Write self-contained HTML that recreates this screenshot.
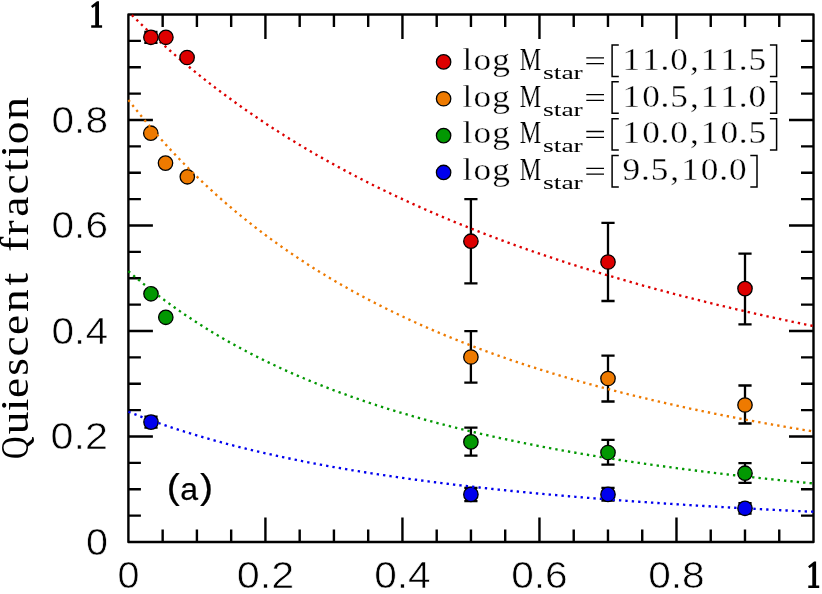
<!DOCTYPE html>
<html><head><meta charset="utf-8"><title>Quiescent fraction</title>
<style>html,body{margin:0;padding:0;background:#fff;}svg{display:block;will-change:transform;}text{font-family:"Liberation Sans",sans-serif;fill:#000;}.ser{font-family:"Liberation Serif",serif;}</style></head><body>
<svg width="822" height="594" viewBox="0 0 822 594">
<rect width="822" height="594" fill="#fff"/>
<defs><clipPath id="box"><rect x="127.20" y="13.30" width="687.50" height="529.90"/></clipPath></defs>
<g stroke="#000" stroke-width="2.4" fill="none" stroke-linejoin="round" stroke-linecap="butt">
<rect x="128.40" y="14.50" width="685.10" height="527.50"/>
<path d="M162.66 542.00v-12.50M162.66 14.50v12.50M128.40 515.62h12.50M813.50 515.62h-12.50M196.91 542.00v-12.50M196.91 14.50v12.50M128.40 489.25h12.50M813.50 489.25h-12.50M231.17 542.00v-12.50M231.17 14.50v12.50M128.40 462.88h12.50M813.50 462.88h-12.50M265.42 542.00v-24.50M265.42 14.50v24.50M128.40 436.50h24.50M813.50 436.50h-24.50M299.68 542.00v-12.50M299.68 14.50v12.50M128.40 410.12h12.50M813.50 410.12h-12.50M333.93 542.00v-12.50M333.93 14.50v12.50M128.40 383.75h12.50M813.50 383.75h-12.50M368.19 542.00v-12.50M368.19 14.50v12.50M128.40 357.38h12.50M813.50 357.38h-12.50M402.44 542.00v-24.50M402.44 14.50v24.50M128.40 331.00h24.50M813.50 331.00h-24.50M436.70 542.00v-12.50M436.70 14.50v12.50M128.40 304.62h12.50M813.50 304.62h-12.50M470.95 542.00v-12.50M470.95 14.50v12.50M128.40 278.25h12.50M813.50 278.25h-12.50M505.21 542.00v-12.50M505.21 14.50v12.50M128.40 251.88h12.50M813.50 251.88h-12.50M539.46 542.00v-24.50M539.46 14.50v24.50M128.40 225.50h24.50M813.50 225.50h-24.50M573.72 542.00v-12.50M573.72 14.50v12.50M128.40 199.12h12.50M813.50 199.12h-12.50M607.97 542.00v-12.50M607.97 14.50v12.50M128.40 172.75h12.50M813.50 172.75h-12.50M642.23 542.00v-12.50M642.23 14.50v12.50M128.40 146.38h12.50M813.50 146.38h-12.50M676.48 542.00v-24.50M676.48 14.50v24.50M128.40 120.00h24.50M813.50 120.00h-24.50M710.74 542.00v-12.50M710.74 14.50v12.50M128.40 93.62h12.50M813.50 93.62h-12.50M744.99 542.00v-12.50M744.99 14.50v12.50M128.40 67.25h12.50M813.50 67.25h-12.50M779.25 542.00v-12.50M779.25 14.50v12.50M128.40 40.88h12.50M813.50 40.88h-12.50"/>
</g>
<path d="M470.90 199.20V283.40M464.30 199.20h13.20M464.30 283.40h13.20" stroke="#000" stroke-width="2.3" fill="none"/>
<circle cx="470.90" cy="241.20" r="7.2" fill="#dd0000" stroke="#000" stroke-width="1.3"/>
<path d="M608.00 222.90V301.00M601.40 222.90h13.20M601.40 301.00h13.20" stroke="#000" stroke-width="2.3" fill="none"/>
<circle cx="608.00" cy="262.00" r="7.2" fill="#dd0000" stroke="#000" stroke-width="1.3"/>
<path d="M745.00 253.60V324.30M738.40 253.60h13.20M738.40 324.30h13.20" stroke="#000" stroke-width="2.3" fill="none"/>
<circle cx="745.00" cy="288.60" r="7.2" fill="#dd0000" stroke="#000" stroke-width="1.3"/>
<circle cx="150.80" cy="133.20" r="7.2" fill="#ee7a00" stroke="#000" stroke-width="1.3"/>
<circle cx="165.50" cy="163.10" r="7.2" fill="#ee7a00" stroke="#000" stroke-width="1.3"/>
<circle cx="187.30" cy="176.80" r="7.2" fill="#ee7a00" stroke="#000" stroke-width="1.3"/>
<path d="M470.90 331.10V382.60M464.30 331.10h13.20M464.30 382.60h13.20" stroke="#000" stroke-width="2.3" fill="none"/>
<circle cx="470.90" cy="357.00" r="7.2" fill="#ee7a00" stroke="#000" stroke-width="1.3"/>
<path d="M608.00 355.60V401.50M601.40 355.60h13.20M601.40 401.50h13.20" stroke="#000" stroke-width="2.3" fill="none"/>
<circle cx="608.00" cy="378.50" r="7.2" fill="#ee7a00" stroke="#000" stroke-width="1.3"/>
<path d="M745.00 385.50V423.50M738.40 385.50h13.20M738.40 423.50h13.20" stroke="#000" stroke-width="2.3" fill="none"/>
<circle cx="745.00" cy="405.00" r="7.2" fill="#ee7a00" stroke="#000" stroke-width="1.3"/>
<circle cx="151.00" cy="293.80" r="7.2" fill="#029802" stroke="#000" stroke-width="1.3"/>
<circle cx="165.80" cy="317.30" r="7.2" fill="#029802" stroke="#000" stroke-width="1.3"/>
<path d="M470.90 427.70V455.70M464.30 427.70h13.20M464.30 455.70h13.20" stroke="#000" stroke-width="2.3" fill="none"/>
<circle cx="470.90" cy="441.90" r="7.2" fill="#029802" stroke="#000" stroke-width="1.3"/>
<path d="M608.00 439.80V464.60M601.40 439.80h13.20M601.40 464.60h13.20" stroke="#000" stroke-width="2.3" fill="none"/>
<circle cx="608.00" cy="452.50" r="7.2" fill="#029802" stroke="#000" stroke-width="1.3"/>
<path d="M745.00 463.10V482.80M738.40 463.10h13.20M738.40 482.80h13.20" stroke="#000" stroke-width="2.3" fill="none"/>
<circle cx="745.00" cy="473.20" r="7.2" fill="#029802" stroke="#000" stroke-width="1.3"/>
<path d="M151.00 416.60V427.70M144.40 416.60h13.20M144.40 427.70h13.20" stroke="#000" stroke-width="2.3" fill="none"/>
<circle cx="151.00" cy="422.10" r="7.2" fill="#0000ee" stroke="#000" stroke-width="1.3"/>
<path d="M470.90 487.80V501.20M464.30 487.80h13.20M464.30 501.20h13.20" stroke="#000" stroke-width="2.3" fill="none"/>
<circle cx="470.90" cy="494.40" r="7.2" fill="#0000ee" stroke="#000" stroke-width="1.3"/>
<path d="M608.00 487.80V500.70M601.40 487.80h13.20M601.40 500.70h13.20" stroke="#000" stroke-width="2.3" fill="none"/>
<circle cx="608.00" cy="494.40" r="7.2" fill="#0000ee" stroke="#000" stroke-width="1.3"/>
<path d="M745.00 503.10V513.50M738.40 503.10h13.20M738.40 513.50h13.20" stroke="#000" stroke-width="2.3" fill="none"/>
<circle cx="745.00" cy="508.30" r="7.2" fill="#0000ee" stroke="#000" stroke-width="1.3"/>
<g fill="none" stroke-width="2.35" stroke-linecap="butt" stroke-dasharray="2.35 4.064" clip-path="url(#box)">
<polyline stroke="#dd0000" stroke-dashoffset="1.50" points="128.40,11.65 130.11,13.37 131.83,15.07 133.54,16.76 135.25,18.45 136.96,20.13 138.68,21.79 140.39,23.45 142.10,25.10 143.81,26.73 145.53,28.36 147.24,29.98 148.95,31.59 150.67,33.19 152.38,34.79 154.09,36.37 155.80,37.95 157.52,39.51 159.23,41.07 160.94,42.62 162.66,44.16 164.37,45.70 166.08,47.22 167.79,48.74 169.51,50.24 171.22,51.74 172.93,53.24 174.64,54.72 176.36,56.19 178.07,57.66 179.78,59.12 181.50,60.57 183.21,62.02 184.92,63.46 186.63,64.88 188.35,66.31 190.06,67.72 191.77,69.13 193.48,70.53 195.20,71.92 196.91,73.30 198.62,74.68 200.34,76.05 202.05,77.41 203.76,78.77 205.47,80.12 207.19,81.46 208.90,82.80 210.61,84.13 212.32,85.45 214.04,86.76 215.75,88.07 217.46,89.37 219.18,90.67 220.89,91.96 222.60,93.24 224.31,94.51 226.03,95.78 227.74,97.05 229.45,98.30 231.17,99.55 232.88,100.80 234.59,102.04 236.30,103.27 238.02,104.49 239.73,105.71 241.44,106.93 243.15,108.13 244.87,109.34 246.58,110.53 248.29,111.72 250.01,112.91 251.72,114.08 253.43,115.26 255.14,116.42 256.86,117.58 258.57,118.74 260.28,119.89 261.99,121.03 263.71,122.17 265.42,123.31 267.13,124.44 268.85,125.56 270.56,126.68 272.27,127.79 273.98,128.90 275.70,130.00 277.41,131.09 279.12,132.19 280.83,133.27 282.55,134.35 284.26,135.43 285.97,136.50 287.69,137.57 289.40,138.63 291.11,139.68 292.82,140.74 294.54,141.78 296.25,142.82 297.96,143.86 299.68,144.89 301.39,145.92 303.10,146.94 304.81,147.96 306.53,148.97 308.24,149.98 309.95,150.99 311.66,151.99 313.38,152.98 315.09,153.97 316.80,154.96 318.52,155.94 320.23,156.92 321.94,157.89 323.65,158.86 325.37,159.82 327.08,160.78 328.79,161.74 330.50,162.69 332.22,163.64 333.93,164.58 335.64,165.52 337.36,166.46 339.07,167.39 340.78,168.31 342.49,169.24 344.21,170.15 345.92,171.07 347.63,171.98 349.34,172.89 351.06,173.79 352.77,174.69 354.48,175.58 356.20,176.47 357.91,177.36 359.62,178.25 361.33,179.12 363.05,180.00 364.76,180.87 366.47,181.74 368.19,182.61 369.90,183.47 371.61,184.32 373.32,185.18 375.04,186.03 376.75,186.88 378.46,187.72 380.17,188.56 381.89,189.39 383.60,190.23 385.31,191.06 387.03,191.88 388.74,192.70 390.45,193.52 392.16,194.34 393.88,195.15 395.59,195.96 397.30,196.76 399.01,197.57 400.73,198.36 402.44,199.16 404.15,199.95 405.87,200.74 407.58,201.53 409.29,202.31 411.00,203.09 412.72,203.86 414.43,204.64 416.14,205.41 417.85,206.17 419.57,206.94 421.28,207.70 422.99,208.46 424.71,209.21 426.42,209.96 428.13,210.71 429.84,211.46 431.56,212.20 433.27,212.94 434.98,213.68 436.70,214.41 438.41,215.14 440.12,215.87 441.83,216.59 443.55,217.32 445.26,218.04 446.97,218.75 448.68,219.47 450.40,220.18 452.11,220.88 453.82,221.59 455.54,222.29 457.25,222.99 458.96,223.69 460.67,224.39 462.39,225.08 464.10,225.77 465.81,226.45 467.52,227.14 469.24,227.82 470.95,228.50 472.66,229.17 474.38,229.85 476.09,230.52 477.80,231.19 479.51,231.85 481.23,232.52 482.94,233.18 484.65,233.84 486.36,234.49 488.08,235.14 489.79,235.80 491.50,236.44 493.22,237.09 494.93,237.73 496.64,238.38 498.35,239.01 500.07,239.65 501.78,240.29 503.49,240.92 505.21,241.55 506.92,242.17 508.63,242.80 510.34,243.42 512.06,244.04 513.77,244.66 515.48,245.28 517.19,245.89 518.91,246.50 520.62,247.11 522.33,247.72 524.05,248.32 525.76,248.92 527.47,249.52 529.18,250.12 530.90,250.72 532.61,251.31 534.32,251.90 536.03,252.49 537.75,253.08 539.46,253.66 541.17,254.25 542.89,254.83 544.60,255.41 546.31,255.98 548.02,256.56 549.74,257.13 551.45,257.70 553.16,258.27 554.87,258.84 556.59,259.40 558.30,259.96 560.01,260.53 561.73,261.08 563.44,261.64 565.15,262.20 566.86,262.75 568.58,263.30 570.29,263.85 572.00,264.40 573.72,264.94 575.43,265.48 577.14,266.03 578.85,266.57 580.57,267.10 582.28,267.64 583.99,268.17 585.70,268.71 587.42,269.24 589.13,269.76 590.84,270.29 592.56,270.82 594.27,271.34 595.98,271.86 597.69,272.38 599.41,272.90 601.12,273.41 602.83,273.93 604.54,274.44 606.26,274.95 607.97,275.46 609.68,275.97 611.40,276.47 613.11,276.98 614.82,277.48 616.53,277.98 618.25,278.48 619.96,278.98 621.67,279.47 623.38,279.97 625.10,280.46 626.81,280.95 628.52,281.44 630.24,281.93 631.95,282.41 633.66,282.90 635.37,283.38 637.09,283.86 638.80,284.34 640.51,284.82 642.23,285.29 643.94,285.77 645.65,286.24 647.36,286.71 649.08,287.18 650.79,287.65 652.50,288.12 654.21,288.58 655.93,289.05 657.64,289.51 659.35,289.97 661.07,290.43 662.78,290.89 664.49,291.34 666.20,291.80 667.92,292.25 669.63,292.71 671.34,293.16 673.05,293.61 674.77,294.05 676.48,294.50 678.19,294.95 679.91,295.39 681.62,295.83 683.33,296.27 685.04,296.71 686.76,297.15 688.47,297.59 690.18,298.02 691.89,298.45 693.61,298.89 695.32,299.32 697.03,299.75 698.75,300.18 700.46,300.60 702.17,301.03 703.88,301.45 705.60,301.88 707.31,302.30 709.02,302.72 710.74,303.14 712.45,303.56 714.16,303.97 715.87,304.39 717.59,304.80 719.30,305.21 721.01,305.63 722.72,306.04 724.44,306.45 726.15,306.85 727.86,307.26 729.58,307.66 731.29,308.07 733.00,308.47 734.71,308.87 736.43,309.27 738.14,309.67 739.85,310.07 741.56,310.47 743.28,310.86 744.99,311.26 746.70,311.65 748.42,312.04 750.13,312.43 751.84,312.82 753.55,313.21 755.27,313.60 756.98,313.98 758.69,314.37 760.40,314.75 762.12,315.13 763.83,315.52 765.54,315.90 767.26,316.28 768.97,316.65 770.68,317.03 772.39,317.41 774.11,317.78 775.82,318.15 777.53,318.53 779.25,318.90 780.96,319.27 782.67,319.64 784.38,320.01 786.10,320.37 787.81,320.74 789.52,321.10 791.23,321.47 792.95,321.83 794.66,322.19 796.37,322.55 798.09,322.91 799.80,323.27 801.51,323.63 803.22,323.99 804.94,324.34 806.65,324.70 808.36,325.05 810.07,325.40 811.79,325.75 813.50,326.10"/>
<polyline stroke="#ee7a00" stroke-dashoffset="0.00" points="128.40,99.96 130.11,102.16 131.83,104.34 133.54,106.51 135.25,108.67 136.96,110.80 138.68,112.92 140.39,115.03 142.10,117.12 143.81,119.20 145.53,121.26 147.24,123.30 148.95,125.33 150.67,127.35 152.38,129.35 154.09,131.33 155.80,133.30 157.52,135.26 159.23,137.21 160.94,139.14 162.66,141.05 164.37,142.95 166.08,144.84 167.79,146.72 169.51,148.58 171.22,150.43 172.93,152.27 174.64,154.09 176.36,155.90 178.07,157.70 179.78,159.48 181.50,161.26 183.21,163.02 184.92,164.77 186.63,166.50 188.35,168.23 190.06,169.94 191.77,171.64 193.48,173.33 195.20,175.01 196.91,176.67 198.62,178.33 200.34,179.97 202.05,181.60 203.76,183.23 205.47,184.84 207.19,186.44 208.90,188.03 210.61,189.60 212.32,191.17 214.04,192.73 215.75,194.28 217.46,195.81 219.18,197.34 220.89,198.86 222.60,200.36 224.31,201.86 226.03,203.35 227.74,204.82 229.45,206.29 231.17,207.75 232.88,209.20 234.59,210.64 236.30,212.07 238.02,213.49 239.73,214.90 241.44,216.30 243.15,217.70 244.87,219.08 246.58,220.46 248.29,221.82 250.01,223.18 251.72,224.53 253.43,225.87 255.14,227.20 256.86,228.53 258.57,229.84 260.28,231.15 261.99,232.45 263.71,233.74 265.42,235.02 267.13,236.30 268.85,237.57 270.56,238.83 272.27,240.08 273.98,241.32 275.70,242.56 277.41,243.79 279.12,245.01 280.83,246.22 282.55,247.43 284.26,248.62 285.97,249.82 287.69,251.00 289.40,252.18 291.11,253.35 292.82,254.51 294.54,255.67 296.25,256.81 297.96,257.96 299.68,259.09 301.39,260.22 303.10,261.34 304.81,262.46 306.53,263.56 308.24,264.67 309.95,265.76 311.66,266.85 313.38,267.93 315.09,269.01 316.80,270.08 318.52,271.14 320.23,272.20 321.94,273.25 323.65,274.29 325.37,275.33 327.08,276.36 328.79,277.39 330.50,278.41 332.22,279.43 333.93,280.43 335.64,281.44 337.36,282.44 339.07,283.43 340.78,284.41 342.49,285.39 344.21,286.37 345.92,287.34 347.63,288.30 349.34,289.26 351.06,290.21 352.77,291.16 354.48,292.10 356.20,293.04 357.91,293.97 359.62,294.90 361.33,295.82 363.05,296.73 364.76,297.64 366.47,298.55 368.19,299.45 369.90,300.35 371.61,301.24 373.32,302.12 375.04,303.01 376.75,303.88 378.46,304.75 380.17,305.62 381.89,306.48 383.60,307.34 385.31,308.19 387.03,309.04 388.74,309.88 390.45,310.72 392.16,311.56 393.88,312.38 395.59,313.21 397.30,314.03 399.01,314.85 400.73,315.66 402.44,316.47 404.15,317.27 405.87,318.07 407.58,318.86 409.29,319.65 411.00,320.44 412.72,321.22 414.43,322.00 416.14,322.78 417.85,323.55 419.57,324.31 421.28,325.07 422.99,325.83 424.71,326.58 426.42,327.33 428.13,328.08 429.84,328.82 431.56,329.56 433.27,330.30 434.98,331.03 436.70,331.75 438.41,332.48 440.12,333.20 441.83,333.91 443.55,334.62 445.26,335.33 446.97,336.04 448.68,336.74 450.40,337.43 452.11,338.13 453.82,338.82 455.54,339.51 457.25,340.19 458.96,340.87 460.67,341.55 462.39,342.22 464.10,342.89 465.81,343.56 467.52,344.22 469.24,344.88 470.95,345.54 472.66,346.19 474.38,346.84 476.09,347.49 477.80,348.13 479.51,348.77 481.23,349.41 482.94,350.04 484.65,350.67 486.36,351.30 488.08,351.92 489.79,352.55 491.50,353.16 493.22,353.78 494.93,354.39 496.64,355.00 498.35,355.61 500.07,356.21 501.78,356.81 503.49,357.41 505.21,358.01 506.92,358.60 508.63,359.19 510.34,359.77 512.06,360.36 513.77,360.94 515.48,361.52 517.19,362.09 518.91,362.66 520.62,363.23 522.33,363.80 524.05,364.37 525.76,364.93 527.47,365.49 529.18,366.04 530.90,366.60 532.61,367.15 534.32,367.70 536.03,368.24 537.75,368.79 539.46,369.33 541.17,369.86 542.89,370.40 544.60,370.93 546.31,371.46 548.02,371.99 549.74,372.52 551.45,373.04 553.16,373.56 554.87,374.08 556.59,374.60 558.30,375.11 560.01,375.62 561.73,376.13 563.44,376.64 565.15,377.14 566.86,377.65 568.58,378.15 570.29,378.64 572.00,379.14 573.72,379.63 575.43,380.12 577.14,380.61 578.85,381.10 580.57,381.58 582.28,382.07 583.99,382.55 585.70,383.02 587.42,383.50 589.13,383.97 590.84,384.44 592.56,384.91 594.27,385.38 595.98,385.84 597.69,386.31 599.41,386.77 601.12,387.23 602.83,387.68 604.54,388.14 606.26,388.59 607.97,389.04 609.68,389.49 611.40,389.94 613.11,390.38 614.82,390.83 616.53,391.27 618.25,391.71 619.96,392.14 621.67,392.58 623.38,393.01 625.10,393.44 626.81,393.87 628.52,394.30 630.24,394.73 631.95,395.15 633.66,395.57 635.37,395.99 637.09,396.41 638.80,396.83 640.51,397.25 642.23,397.66 643.94,398.07 645.65,398.48 647.36,398.89 649.08,399.29 650.79,399.70 652.50,400.10 654.21,400.50 655.93,400.90 657.64,401.30 659.35,401.70 661.07,402.09 662.78,402.48 664.49,402.87 666.20,403.26 667.92,403.65 669.63,404.04 671.34,404.42 673.05,404.81 674.77,405.19 676.48,405.57 678.19,405.94 679.91,406.32 681.62,406.70 683.33,407.07 685.04,407.44 686.76,407.81 688.47,408.18 690.18,408.55 691.89,408.91 693.61,409.28 695.32,409.64 697.03,410.00 698.75,410.36 700.46,410.72 702.17,411.08 703.88,411.43 705.60,411.79 707.31,412.14 709.02,412.49 710.74,412.84 712.45,413.19 714.16,413.54 715.87,413.88 717.59,414.23 719.30,414.57 721.01,414.91 722.72,415.25 724.44,415.59 726.15,415.93 727.86,416.26 729.58,416.60 731.29,416.93 733.00,417.26 734.71,417.59 736.43,417.92 738.14,418.25 739.85,418.58 741.56,418.90 743.28,419.23 744.99,419.55 746.70,419.87 748.42,420.19 750.13,420.51 751.84,420.83 753.55,421.15 755.27,421.46 756.98,421.77 758.69,422.09 760.40,422.40 762.12,422.71 763.83,423.02 765.54,423.33 767.26,423.63 768.97,423.94 770.68,424.24 772.39,424.55 774.11,424.85 775.82,425.15 777.53,425.45 779.25,425.75 780.96,426.05 782.67,426.34 784.38,426.64 786.10,426.93 787.81,427.23 789.52,427.52 791.23,427.81 792.95,428.10 794.66,428.39 796.37,428.67 798.09,428.96 799.80,429.24 801.51,429.53 803.22,429.81 804.94,430.09 806.65,430.38 808.36,430.66 810.07,430.93 811.79,431.21 813.50,431.49"/>
<polyline stroke="#029802" stroke-dashoffset="0.00" points="128.40,271.13 130.11,272.62 131.83,274.10 133.54,275.56 135.25,277.02 136.96,278.46 138.68,279.90 140.39,281.32 142.10,282.73 143.81,284.13 145.53,285.51 147.24,286.89 148.95,288.26 150.67,289.61 152.38,290.96 154.09,292.29 155.80,293.62 157.52,294.93 159.23,296.24 160.94,297.53 162.66,298.81 164.37,300.09 166.08,301.35 167.79,302.61 169.51,303.85 171.22,305.09 172.93,306.32 174.64,307.54 176.36,308.75 178.07,309.94 179.78,311.14 181.50,312.32 183.21,313.49 184.92,314.66 186.63,315.81 188.35,316.96 190.06,318.10 191.77,319.23 193.48,320.35 195.20,321.47 196.91,322.57 198.62,323.67 200.34,324.76 202.05,325.84 203.76,326.92 205.47,327.98 207.19,329.04 208.90,330.09 210.61,331.14 212.32,332.17 214.04,333.20 215.75,334.22 217.46,335.24 219.18,336.25 220.89,337.25 222.60,338.24 224.31,339.22 226.03,340.20 227.74,341.18 229.45,342.14 231.17,343.10 232.88,344.05 234.59,345.00 236.30,345.94 238.02,346.87 239.73,347.80 241.44,348.72 243.15,349.63 244.87,350.54 246.58,351.44 248.29,352.33 250.01,353.22 251.72,354.10 253.43,354.98 255.14,355.85 256.86,356.72 258.57,357.58 260.28,358.43 261.99,359.28 263.71,360.12 265.42,360.95 267.13,361.79 268.85,362.61 270.56,363.43 272.27,364.24 273.98,365.05 275.70,365.86 277.41,366.65 279.12,367.45 280.83,368.24 282.55,369.02 284.26,369.80 285.97,370.57 287.69,371.34 289.40,372.10 291.11,372.86 292.82,373.61 294.54,374.36 296.25,375.10 297.96,375.84 299.68,376.57 301.39,377.30 303.10,378.02 304.81,378.74 306.53,379.46 308.24,380.17 309.95,380.87 311.66,381.58 313.38,382.27 315.09,382.97 316.80,383.65 318.52,384.34 320.23,385.02 321.94,385.69 323.65,386.36 325.37,387.03 327.08,387.69 328.79,388.35 330.50,389.01 332.22,389.66 333.93,390.31 335.64,390.95 337.36,391.59 339.07,392.22 340.78,392.85 342.49,393.48 344.21,394.10 345.92,394.72 347.63,395.34 349.34,395.95 351.06,396.56 352.77,397.16 354.48,397.76 356.20,398.36 357.91,398.95 359.62,399.54 361.33,400.13 363.05,400.71 364.76,401.29 366.47,401.87 368.19,402.44 369.90,403.01 371.61,403.58 373.32,404.14 375.04,404.70 376.75,405.26 378.46,405.81 380.17,406.36 381.89,406.91 383.60,407.45 385.31,407.99 387.03,408.53 388.74,409.06 390.45,409.59 392.16,410.12 393.88,410.64 395.59,411.16 397.30,411.68 399.01,412.20 400.73,412.71 402.44,413.22 404.15,413.73 405.87,414.23 407.58,414.73 409.29,415.23 411.00,415.72 412.72,416.22 414.43,416.71 416.14,417.19 417.85,417.68 419.57,418.16 421.28,418.64 422.99,419.11 424.71,419.59 426.42,420.06 428.13,420.53 429.84,420.99 431.56,421.46 433.27,421.92 434.98,422.37 436.70,422.83 438.41,423.28 440.12,423.73 441.83,424.18 443.55,424.62 445.26,425.07 446.97,425.51 448.68,425.95 450.40,426.38 452.11,426.82 453.82,427.25 455.54,427.68 457.25,428.10 458.96,428.53 460.67,428.95 462.39,429.37 464.10,429.78 465.81,430.20 467.52,430.61 469.24,431.02 470.95,431.43 472.66,431.84 474.38,432.24 476.09,432.64 477.80,433.04 479.51,433.44 481.23,433.83 482.94,434.23 484.65,434.62 486.36,435.01 488.08,435.40 489.79,435.78 491.50,436.16 493.22,436.55 494.93,436.92 496.64,437.30 498.35,437.68 500.07,438.05 501.78,438.42 503.49,438.79 505.21,439.16 506.92,439.52 508.63,439.89 510.34,440.25 512.06,440.61 513.77,440.97 515.48,441.32 517.19,441.68 518.91,442.03 520.62,442.38 522.33,442.73 524.05,443.08 525.76,443.42 527.47,443.77 529.18,444.11 530.90,444.45 532.61,444.79 534.32,445.13 536.03,445.46 537.75,445.79 539.46,446.13 541.17,446.46 542.89,446.79 544.60,447.11 546.31,447.44 548.02,447.76 549.74,448.08 551.45,448.40 553.16,448.72 554.87,449.04 556.59,449.36 558.30,449.67 560.01,449.98 561.73,450.29 563.44,450.60 565.15,450.91 566.86,451.22 568.58,451.52 570.29,451.83 572.00,452.13 573.72,452.43 575.43,452.73 577.14,453.03 578.85,453.32 580.57,453.62 582.28,453.91 583.99,454.20 585.70,454.49 587.42,454.78 589.13,455.07 590.84,455.36 592.56,455.64 594.27,455.93 595.98,456.21 597.69,456.49 599.41,456.77 601.12,457.05 602.83,457.32 604.54,457.60 606.26,457.87 607.97,458.15 609.68,458.42 611.40,458.69 613.11,458.96 614.82,459.23 616.53,459.49 618.25,459.76 619.96,460.02 621.67,460.29 623.38,460.55 625.10,460.81 626.81,461.07 628.52,461.33 630.24,461.58 631.95,461.84 633.66,462.09 635.37,462.35 637.09,462.60 638.80,462.85 640.51,463.10 642.23,463.35 643.94,463.60 645.65,463.84 647.36,464.09 649.08,464.33 650.79,464.58 652.50,464.82 654.21,465.06 655.93,465.30 657.64,465.54 659.35,465.78 661.07,466.01 662.78,466.25 664.49,466.48 666.20,466.72 667.92,466.95 669.63,467.18 671.34,467.41 673.05,467.64 674.77,467.87 676.48,468.10 678.19,468.32 679.91,468.55 681.62,468.77 683.33,469.00 685.04,469.22 686.76,469.44 688.47,469.66 690.18,469.88 691.89,470.10 693.61,470.32 695.32,470.53 697.03,470.75 698.75,470.96 700.46,471.18 702.17,471.39 703.88,471.60 705.60,471.81 707.31,472.02 709.02,472.23 710.74,472.44 712.45,472.65 714.16,472.85 715.87,473.06 717.59,473.26 719.30,473.47 721.01,473.67 722.72,473.87 724.44,474.07 726.15,474.27 727.86,474.47 729.58,474.67 731.29,474.87 733.00,475.06 734.71,475.26 736.43,475.46 738.14,475.65 739.85,475.84 741.56,476.04 743.28,476.23 744.99,476.42 746.70,476.61 748.42,476.80 750.13,476.99 751.84,477.18 753.55,477.36 755.27,477.55 756.98,477.74 758.69,477.92 760.40,478.10 762.12,478.29 763.83,478.47 765.54,478.65 767.26,478.83 768.97,479.01 770.68,479.19 772.39,479.37 774.11,479.55 775.82,479.73 777.53,479.90 779.25,480.08 780.96,480.25 782.67,480.43 784.38,480.60 786.10,480.77 787.81,480.95 789.52,481.12 791.23,481.29 792.95,481.46 794.66,481.63 796.37,481.80 798.09,481.96 799.80,482.13 801.51,482.30 803.22,482.47 804.94,482.63 806.65,482.80 808.36,482.96 810.07,483.12 811.79,483.29 813.50,483.45"/>
<polyline stroke="#0000ee" stroke-dashoffset="0.00" points="128.40,411.71 130.11,412.39 131.83,413.07 133.54,413.74 135.25,414.41 136.96,415.08 138.68,415.73 140.39,416.39 142.10,417.03 143.81,417.68 145.53,418.32 147.24,418.95 148.95,419.58 150.67,420.20 152.38,420.82 154.09,421.44 155.80,422.05 157.52,422.65 159.23,423.25 160.94,423.85 162.66,424.44 164.37,425.03 166.08,425.61 167.79,426.19 169.51,426.77 171.22,427.34 172.93,427.91 174.64,428.47 176.36,429.03 178.07,429.58 179.78,430.13 181.50,430.68 183.21,431.22 184.92,431.76 186.63,432.29 188.35,432.82 190.06,433.35 191.77,433.87 193.48,434.39 195.20,434.91 196.91,435.42 198.62,435.93 200.34,436.44 202.05,436.94 203.76,437.44 205.47,437.93 207.19,438.42 208.90,438.91 210.61,439.40 212.32,439.88 214.04,440.35 215.75,440.83 217.46,441.30 219.18,441.77 220.89,442.23 222.60,442.69 224.31,443.15 226.03,443.61 227.74,444.06 229.45,444.51 231.17,444.96 232.88,445.40 234.59,445.84 236.30,446.28 238.02,446.71 239.73,447.14 241.44,447.57 243.15,448.00 244.87,448.42 246.58,448.84 248.29,449.26 250.01,449.67 251.72,450.08 253.43,450.49 255.14,450.90 256.86,451.30 258.57,451.70 260.28,452.10 261.99,452.50 263.71,452.89 265.42,453.28 267.13,453.67 268.85,454.06 270.56,454.44 272.27,454.82 273.98,455.20 275.70,455.58 277.41,455.95 279.12,456.32 280.83,456.69 282.55,457.06 284.26,457.42 285.97,457.78 287.69,458.14 289.40,458.50 291.11,458.86 292.82,459.21 294.54,459.56 296.25,459.91 297.96,460.25 299.68,460.60 301.39,460.94 303.10,461.28 304.81,461.62 306.53,461.95 308.24,462.29 309.95,462.62 311.66,462.95 313.38,463.28 315.09,463.60 316.80,463.93 318.52,464.25 320.23,464.57 321.94,464.89 323.65,465.20 325.37,465.52 327.08,465.83 328.79,466.14 330.50,466.45 332.22,466.75 333.93,467.06 335.64,467.36 337.36,467.66 339.07,467.96 340.78,468.26 342.49,468.55 344.21,468.85 345.92,469.14 347.63,469.43 349.34,469.72 351.06,470.01 352.77,470.29 354.48,470.58 356.20,470.86 357.91,471.14 359.62,471.42 361.33,471.70 363.05,471.97 364.76,472.25 366.47,472.52 368.19,472.79 369.90,473.06 371.61,473.33 373.32,473.59 375.04,473.86 376.75,474.12 378.46,474.38 380.17,474.64 381.89,474.90 383.60,475.16 385.31,475.41 387.03,475.67 388.74,475.92 390.45,476.17 392.16,476.42 393.88,476.67 395.59,476.92 397.30,477.17 399.01,477.41 400.73,477.65 402.44,477.90 404.15,478.14 405.87,478.38 407.58,478.61 409.29,478.85 411.00,479.09 412.72,479.32 414.43,479.55 416.14,479.78 417.85,480.02 419.57,480.24 421.28,480.47 422.99,480.70 424.71,480.92 426.42,481.15 428.13,481.37 429.84,481.59 431.56,481.81 433.27,482.03 434.98,482.25 436.70,482.47 438.41,482.68 440.12,482.90 441.83,483.11 443.55,483.32 445.26,483.53 446.97,483.74 448.68,483.95 450.40,484.16 452.11,484.37 453.82,484.57 455.54,484.78 457.25,484.98 458.96,485.19 460.67,485.39 462.39,485.59 464.10,485.79 465.81,485.98 467.52,486.18 469.24,486.38 470.95,486.57 472.66,486.77 474.38,486.96 476.09,487.15 477.80,487.34 479.51,487.53 481.23,487.72 482.94,487.91 484.65,488.10 486.36,488.29 488.08,488.47 489.79,488.66 491.50,488.84 493.22,489.02 494.93,489.20 496.64,489.38 498.35,489.56 500.07,489.74 501.78,489.92 503.49,490.10 505.21,490.28 506.92,490.45 508.63,490.63 510.34,490.80 512.06,490.97 513.77,491.14 515.48,491.31 517.19,491.48 518.91,491.65 520.62,491.82 522.33,491.99 524.05,492.16 525.76,492.32 527.47,492.49 529.18,492.65 530.90,492.82 532.61,492.98 534.32,493.14 536.03,493.30 537.75,493.46 539.46,493.62 541.17,493.78 542.89,493.94 544.60,494.10 546.31,494.25 548.02,494.41 549.74,494.57 551.45,494.72 553.16,494.87 554.87,495.03 556.59,495.18 558.30,495.33 560.01,495.48 561.73,495.63 563.44,495.78 565.15,495.93 566.86,496.08 568.58,496.22 570.29,496.37 572.00,496.52 573.72,496.66 575.43,496.81 577.14,496.95 578.85,497.09 580.57,497.24 582.28,497.38 583.99,497.52 585.70,497.66 587.42,497.80 589.13,497.94 590.84,498.08 592.56,498.21 594.27,498.35 595.98,498.49 597.69,498.62 599.41,498.76 601.12,498.89 602.83,499.03 604.54,499.16 606.26,499.29 607.97,499.43 609.68,499.56 611.40,499.69 613.11,499.82 614.82,499.95 616.53,500.08 618.25,500.21 619.96,500.34 621.67,500.46 623.38,500.59 625.10,500.72 626.81,500.84 628.52,500.97 630.24,501.09 631.95,501.22 633.66,501.34 635.37,501.46 637.09,501.59 638.80,501.71 640.51,501.83 642.23,501.95 643.94,502.07 645.65,502.19 647.36,502.31 649.08,502.43 650.79,502.55 652.50,502.66 654.21,502.78 655.93,502.90 657.64,503.01 659.35,503.13 661.07,503.25 662.78,503.36 664.49,503.47 666.20,503.59 667.92,503.70 669.63,503.81 671.34,503.93 673.05,504.04 674.77,504.15 676.48,504.26 678.19,504.37 679.91,504.48 681.62,504.59 683.33,504.70 685.04,504.81 686.76,504.91 688.47,505.02 690.18,505.13 691.89,505.24 693.61,505.34 695.32,505.45 697.03,505.55 698.75,505.66 700.46,505.76 702.17,505.86 703.88,505.97 705.60,506.07 707.31,506.17 709.02,506.28 710.74,506.38 712.45,506.48 714.16,506.58 715.87,506.68 717.59,506.78 719.30,506.88 721.01,506.98 722.72,507.08 724.44,507.18 726.15,507.27 727.86,507.37 729.58,507.47 731.29,507.57 733.00,507.66 734.71,507.76 736.43,507.85 738.14,507.95 739.85,508.04 741.56,508.14 743.28,508.23 744.99,508.33 746.70,508.42 748.42,508.51 750.13,508.60 751.84,508.70 753.55,508.79 755.27,508.88 756.98,508.97 758.69,509.06 760.40,509.15 762.12,509.24 763.83,509.33 765.54,509.42 767.26,509.51 768.97,509.60 770.68,509.68 772.39,509.77 774.11,509.86 775.82,509.95 777.53,510.03 779.25,510.12 780.96,510.21 782.67,510.29 784.38,510.38 786.10,510.46 787.81,510.55 789.52,510.63 791.23,510.71 792.95,510.80 794.66,510.88 796.37,510.96 798.09,511.05 799.80,511.13 801.51,511.21 803.22,511.29 804.94,511.37 806.65,511.46 808.36,511.54 810.07,511.62 811.79,511.70 813.50,511.78"/>
</g>
<path d="M150.90 32.00V42.80M144.30 32.00h13.20M144.30 42.80h13.20" stroke="#000" stroke-width="2.3" fill="none"/>
<circle cx="150.90" cy="37.30" r="7.2" fill="#dd0000" stroke="#000" stroke-width="1.3"/>
<circle cx="165.90" cy="37.30" r="7.2" fill="#dd0000" stroke="#000" stroke-width="1.3"/>
<circle cx="187.10" cy="57.50" r="7.2" fill="#dd0000" stroke="#000" stroke-width="1.3"/>
<circle cx="443.6" cy="61.90" r="7.2" fill="#dd0000" stroke="#000" stroke-width="1.3"/>
<text class="ser" transform="scale(1.15,1)" text-anchor="middle" x="406.35 419.39 435.65" y="69.80" font-size="30.7" stroke="#fff" stroke-width="0.3">log</text>
<text class="ser" transform="scale(0.79,1)" text-anchor="middle" x="671.27" y="69.80" font-size="31" stroke="#fff" stroke-width="0.2">M</text>
<text class="ser" x="543.0" y="78.70" font-size="19.5" textLength="39.8" lengthAdjust="spacingAndGlyphs">star</text>
<path d="M586.3 57.80H604M586.3 63.60H604" stroke="#000" stroke-width="1.3" fill="none"/>
<path d="M618.8 45.00H612.1V76.40H618.8" stroke="#000" stroke-width="1.5" fill="none"/>
<text class="ser" transform="scale(1.12,1)" text-anchor="middle" x="563.75 581.25 593.79 606.34 619.96 633.57 651.07 663.62 676.16" y="69.80" font-size="31.5" stroke="#fff" stroke-width="0.3">11.0,11.5</text>
<path d="M769.90 45.00H776.60V76.40H769.90" stroke="#000" stroke-width="1.5" fill="none"/>
<circle cx="443.6" cy="98.75" r="7.2" fill="#ee7a00" stroke="#000" stroke-width="1.3"/>
<text class="ser" transform="scale(1.15,1)" text-anchor="middle" x="406.35 419.39 435.65" y="106.65" font-size="30.7" stroke="#fff" stroke-width="0.3">log</text>
<text class="ser" transform="scale(0.79,1)" text-anchor="middle" x="671.27" y="106.65" font-size="31" stroke="#fff" stroke-width="0.2">M</text>
<text class="ser" x="543.0" y="115.55" font-size="19.5" textLength="39.8" lengthAdjust="spacingAndGlyphs">star</text>
<path d="M586.3 94.65H604M586.3 100.45H604" stroke="#000" stroke-width="1.3" fill="none"/>
<path d="M618.8 81.85H612.1V113.25H618.8" stroke="#000" stroke-width="1.5" fill="none"/>
<text class="ser" transform="scale(1.12,1)" text-anchor="middle" x="563.75 581.25 593.79 606.34 619.96 633.57 651.07 663.62 676.16" y="106.65" font-size="31.5" stroke="#fff" stroke-width="0.3">10.5,11.0</text>
<path d="M769.90 81.85H776.60V113.25H769.90" stroke="#000" stroke-width="1.5" fill="none"/>
<circle cx="443.6" cy="135.60" r="7.2" fill="#029802" stroke="#000" stroke-width="1.3"/>
<text class="ser" transform="scale(1.15,1)" text-anchor="middle" x="406.35 419.39 435.65" y="143.50" font-size="30.7" stroke="#fff" stroke-width="0.3">log</text>
<text class="ser" transform="scale(0.79,1)" text-anchor="middle" x="671.27" y="143.50" font-size="31" stroke="#fff" stroke-width="0.2">M</text>
<text class="ser" x="543.0" y="152.40" font-size="19.5" textLength="39.8" lengthAdjust="spacingAndGlyphs">star</text>
<path d="M586.3 131.50H604M586.3 137.30H604" stroke="#000" stroke-width="1.3" fill="none"/>
<path d="M618.8 118.70H612.1V150.10H618.8" stroke="#000" stroke-width="1.5" fill="none"/>
<text class="ser" transform="scale(1.12,1)" text-anchor="middle" x="563.75 581.25 593.79 606.34 619.96 633.57 651.07 663.62 676.16" y="143.50" font-size="31.5" stroke="#fff" stroke-width="0.3">10.0,10.5</text>
<path d="M769.90 118.70H776.60V150.10H769.90" stroke="#000" stroke-width="1.5" fill="none"/>
<circle cx="443.6" cy="172.45" r="7.2" fill="#0000ee" stroke="#000" stroke-width="1.3"/>
<text class="ser" transform="scale(1.15,1)" text-anchor="middle" x="406.35 419.39 435.65" y="180.35" font-size="30.7" stroke="#fff" stroke-width="0.3">log</text>
<text class="ser" transform="scale(0.79,1)" text-anchor="middle" x="671.27" y="180.35" font-size="31" stroke="#fff" stroke-width="0.2">M</text>
<text class="ser" x="543.0" y="189.25" font-size="19.5" textLength="39.8" lengthAdjust="spacingAndGlyphs">star</text>
<path d="M586.3 168.35H604M586.3 174.15H604" stroke="#000" stroke-width="1.3" fill="none"/>
<path d="M618.8 155.55H612.1V186.95H618.8" stroke="#000" stroke-width="1.5" fill="none"/>
<text class="ser" transform="scale(1.12,1)" text-anchor="middle" x="563.75 576.29 588.84 602.46 616.07 633.57 646.12 658.66" y="180.35" font-size="31.5" stroke="#fff" stroke-width="0.3">9.5,10.0</text>
<path d="M750.30 155.55H757.00V186.95H750.30" stroke="#000" stroke-width="1.5" fill="none"/>
<text x="128.40" y="587.60" font-size="36.5" text-anchor="middle" textLength="22.0" lengthAdjust="spacingAndGlyphs" stroke="#fff" stroke-width="0.6">0</text>
<text x="265.42" y="587.60" font-size="36.5" text-anchor="middle" textLength="57.5" lengthAdjust="spacingAndGlyphs" stroke="#fff" stroke-width="0.6">0.2</text>
<text x="402.44" y="587.60" font-size="36.5" text-anchor="middle" textLength="56.5" lengthAdjust="spacingAndGlyphs" stroke="#fff" stroke-width="0.6">0.4</text>
<text x="539.46" y="587.60" font-size="36.5" text-anchor="middle" textLength="56.5" lengthAdjust="spacingAndGlyphs" stroke="#fff" stroke-width="0.6">0.6</text>
<text x="676.48" y="587.60" font-size="36.5" text-anchor="middle" textLength="56.5" lengthAdjust="spacingAndGlyphs" stroke="#fff" stroke-width="0.6">0.8</text>
<text x="108.00" y="554.90" font-size="36.5" text-anchor="end" textLength="22.0" lengthAdjust="spacingAndGlyphs" stroke="#fff" stroke-width="0.6">0</text>
<text x="108.00" y="449.40" font-size="36.5" text-anchor="end" textLength="57.5" lengthAdjust="spacingAndGlyphs" stroke="#fff" stroke-width="0.6">0.2</text>
<text x="108.00" y="343.90" font-size="36.5" text-anchor="end" textLength="56.5" lengthAdjust="spacingAndGlyphs" stroke="#fff" stroke-width="0.6">0.4</text>
<text x="108.00" y="238.40" font-size="36.5" text-anchor="end" textLength="56.5" lengthAdjust="spacingAndGlyphs" stroke="#fff" stroke-width="0.6">0.6</text>
<text x="108.00" y="132.90" font-size="36.5" text-anchor="end" textLength="56.5" lengthAdjust="spacingAndGlyphs" stroke="#fff" stroke-width="0.6">0.8</text>
<path transform="translate(91.0,27.7)" d="M6.0 -26.5H8.0V-2.4H11.1V0H0.2V-2.4H4.2V-21.8L1.4 -19.7L0 -21.7Z" fill="#000"/>
<path transform="translate(808.1,588.0)" d="M6.0 -26.5H8.0V-2.4H11.1V0H0.2V-2.4H4.2V-21.8L1.4 -19.7L0 -21.7Z" fill="#000"/>
<text transform="scale(1.12,1)" text-anchor="middle" x="154.73" y="498.60" font-size="35" stroke="#000" stroke-width="0.25">(</text>
<text transform="scale(1.0,1)" text-anchor="middle" x="189.20" y="499.70" font-size="32" stroke="#000" stroke-width="0.25">a</text>
<text transform="scale(1.12,1)" text-anchor="middle" x="184.37" y="498.60" font-size="35" stroke="#000" stroke-width="0.25">)</text>
<text class="ser" transform="translate(27.6,460.0) rotate(-90) scale(1.15,1)" text-anchor="middle" x="32.26 47.96 62.65 80.96 98.87 117.52 138.48 157.17 187.48 201.87 220.22 239.61 256.04 268.43 284.43 305.78" y="0" font-size="39.5">uiescentfraction</text>
<text class="ser" transform="translate(27.6,460.0) rotate(-90) scale(0.79,1)" text-anchor="middle" x="15.51" y="0" font-size="39.5">Q</text>
</svg></body></html>
